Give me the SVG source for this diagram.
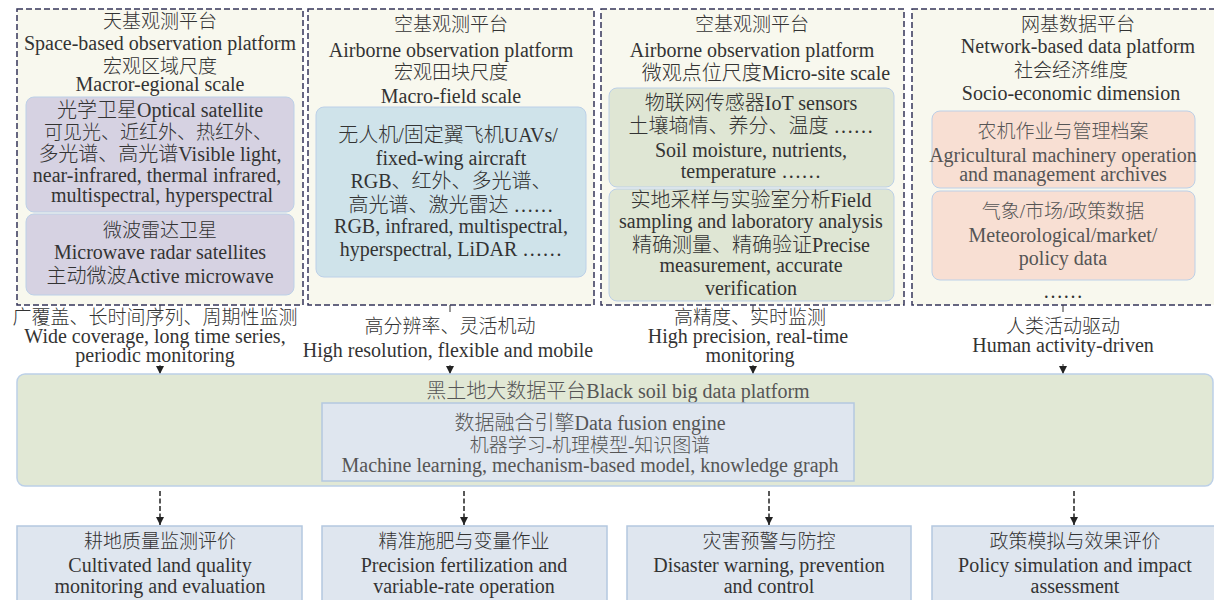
<svg xmlns="http://www.w3.org/2000/svg" width="1214" height="600" viewBox="0 0 1214 600">
<defs>
<style>
text{font-family:"Liberation Serif","Noto Sans CJK SC",serif;font-size:20px;font-weight:300;fill:#333;text-anchor:middle}
text.zh{font-size:19px}
.panel{fill:#f8f8ee;stroke:#35355a;stroke-width:1.5;stroke-dasharray:6 3}
.purple{fill:#d6d2e2;stroke:#bcd0e8;stroke-width:1}
.blue{fill:#cfe3ea;stroke:#bcd0e8;stroke-width:1}
.green{fill:#dfe6d4;stroke:#bcd0e8;stroke-width:1}
.pink{fill:#f8dfd3;stroke:#bcd0e8;stroke-width:1}
.plat{fill:#e1e8d5;stroke:#bcd0e8;stroke-width:1.5}
.fus{fill:#dfe6ef;stroke:#b4c8e0;stroke-width:1.5}
.out{fill:#dfe6ef;stroke:#b4c8e0;stroke-width:1.5}
.lbl{fill:#fff}
.grey{fill:#555}
.up{stroke:#333;stroke-width:1;fill:none}
.down{stroke:#222;stroke-width:1.5;stroke-dasharray:5 2.5;fill:none}
</style>
<marker id="ah" markerUnits="userSpaceOnUse" markerWidth="9" markerHeight="9" refX="8" refY="4" orient="auto" viewBox="0 0 9 8">
<path d="M0,0 L8,4 L0,8 z" fill="#222"/>
</marker>
</defs>

<g id="connectors">
<line class="up" x1="160" y1="305" x2="160" y2="374" marker-end="url(#ah)"/>
<line class="up" x1="450" y1="305" x2="450" y2="374" marker-end="url(#ah)"/>
<line class="up" x1="753" y1="305" x2="753" y2="374" marker-end="url(#ah)"/>
<line class="up" x1="1063" y1="305" x2="1063" y2="374" marker-end="url(#ah)"/>
<line class="down" x1="160" y1="491" x2="160" y2="525" marker-end="url(#ah)"/>
<line class="down" x1="464" y1="491" x2="464" y2="525" marker-end="url(#ah)"/>
<line class="down" x1="769" y1="491" x2="769" y2="525" marker-end="url(#ah)"/>
<line class="down" x1="1074" y1="491" x2="1074" y2="525" marker-end="url(#ah)"/>
</g>

<g id="panel-space">
<rect class="panel" x="17" y="9" width="286" height="296"/>
<text class="zh" x="160" y="28">天基观测平台</text>
<text x="160" y="50">Space-based observation platform</text>
<text class="zh" x="160" y="73">宏观区域尺度</text>
<text x="160" y="91">Macror-egional scale</text>
<g id="optical-satellite">
<rect class="purple" x="26" y="97" width="268" height="115" rx="8"/>
<text x="160" y="117">光学卫星Optical satellite</text>
<text class="zh" x="158" y="139">可见光、近红外、热红外、</text>
<text x="160" y="161">多光谱、高光谱Visible light,</text>
<text x="157" y="182">near-infrared, thermal infrared,</text>
<text x="162" y="202">multispectral, hyperspectral</text>
</g>
<g id="microwave-satellite">
<rect class="purple" x="26" y="214" width="268" height="81" rx="8"/>
<text class="zh" x="160" y="237">微波雷达卫星</text>
<text x="160" y="259">Microwave radar satellites</text>
<text x="160" y="283">主动微波Active microwave</text>
</g>
</g>

<g id="panel-air-macro">
<rect class="panel" x="308" y="9" width="286" height="296"/>
<text class="zh" x="451" y="31">空基观测平台</text>
<text x="451" y="57">Airborne observation platform</text>
<text class="zh" x="451" y="79">宏观田块尺度</text>
<text x="451" y="103">Macro-field scale</text>
<g id="uav">
<rect class="blue" x="316" y="107" width="270" height="170" rx="8"/>
<text x="448" y="142">无人机/固定翼飞机UAVs/</text>
<text x="451" y="165">fixed-wing aircraft</text>
<text x="451" y="188">RGB、红外、多光谱、</text>
<text x="451" y="212">高光谱、激光雷达 ……</text>
<text x="451" y="233">RGB, infrared, multispectral,</text>
<text x="451" y="256">hyperspectral, LiDAR ……</text>
</g>
</g>

<g id="panel-air-micro">
<rect class="panel" x="601" y="9" width="303" height="296"/>
<text class="zh" x="752" y="31">空基观测平台</text>
<text x="752" y="57">Airborne observation platform</text>
<text x="766" y="80">微观点位尺度Micro-site scale</text>
<g id="iot">
<rect class="green" x="609" y="88" width="285" height="99" rx="8"/>
<text x="751" y="110">物联网传感器IoT sensors</text>
<text x="751" y="133">土壤墒情、养分、温度 ……</text>
<text x="751" y="157">Soil moisture, nutrients,</text>
<text x="751" y="178">temperature ……</text>
</g>
<g id="field-sampling">
<rect class="green" x="609" y="189" width="285" height="112" rx="8"/>
<text x="751" y="207">实地采样与实验室分析Field</text>
<text x="751" y="228">sampling and laboratory analysis</text>
<text x="751" y="252">精确测量、精确验证Precise</text>
<text x="751" y="272">measurement, accurate</text>
<text x="751" y="295">verification</text>
</g>
</g>

<g id="panel-network">
<rect class="panel" x="912" y="9" width="312" height="296"/>
<text class="zh" x="1078" y="31">网基数据平台</text>
<text x="1078" y="53">Network-based data platform</text>
<text class="zh" x="1071" y="77">社会经济维度</text>
<text x="1071" y="100">Socio-economic dimension</text>
<g id="machinery">
<rect class="pink" x="932" y="111" width="263" height="77" rx="8"/>
<text class="zh grey" x="1063" y="138">农机作业与管理档案</text>
<text class="grey" x="1063" y="162">Agricultural machinery operation</text>
<text class="grey" x="1063" y="181">and management archives</text>
</g>
<g id="weather">
<rect class="pink" x="932" y="191" width="263" height="89" rx="8"/>
<text class="zh grey" x="1063" y="218">气象/市场/政策数据</text>
<text class="grey" x="1063" y="242">Meteorological/market/</text>
<text class="grey" x="1063" y="265">policy data</text>
</g>
<text x="1063" y="298">……</text>
</g>

<g id="label-1">
<rect class="lbl" x="2" y="312" width="306" height="53"/>
<text class="zh" x="155" y="324">广覆盖、长时间序列、周期性监测</text>
<text x="155" y="343">Wide coverage, long time series,</text>
<text x="155" y="362">periodic monitoring</text>
</g>
<g id="label-2">
<rect class="lbl" x="300" y="312" width="300" height="53"/>
<text class="zh" x="450" y="333">高分辨率、灵活机动</text>
<text x="448" y="357">High resolution, flexible and mobile</text>
</g>
<g id="label-3">
<rect class="lbl" x="640" y="312" width="220" height="53"/>
<text class="zh" x="750" y="324">高精度、实时监测</text>
<text x="748" y="343">High precision, real-time</text>
<text x="750" y="362">monitoring</text>
</g>
<g id="label-4">
<rect class="lbl" x="950" y="312" width="226" height="52"/>
<text class="zh" x="1063" y="333">人类活动驱动</text>
<text x="1063" y="352">Human activity-driven</text>
</g>

<g id="platform">
<rect class="plat" x="17" y="374" width="1196" height="112" rx="8"/>
<text class="grey" x="618" y="398">黑土地大数据平台Black soil big data platform</text>
<g id="fusion-engine">
<rect class="fus" x="322" y="403" width="532" height="78"/>
<text class="grey" x="590" y="430">数据融合引擎Data fusion engine</text>
<text class="zh grey" x="590" y="452">机器学习-机理模型-知识图谱</text>
<text class="grey" x="590" y="472">Machine learning, mechanism-based model, knowledge graph</text>
</g>
</g>

<g id="out-quality">
<rect class="out" x="17" y="526" width="285" height="80"/>
<text class="zh" x="160" y="548">耕地质量监测评价</text>
<text x="160" y="572">Cultivated land quality</text>
<text x="160" y="593">monitoring and evaluation</text>
</g>
<g id="out-fertilization">
<rect class="out" x="322" y="526" width="285" height="80"/>
<text class="zh" x="464" y="548">精准施肥与变量作业</text>
<text x="464" y="572">Precision fertilization and</text>
<text x="464" y="593">variable-rate operation</text>
</g>
<g id="out-disaster">
<rect class="out" x="627" y="526" width="284" height="80"/>
<text class="zh" x="769" y="548">灾害预警与防控</text>
<text x="769" y="572">Disaster warning, prevention</text>
<text x="769" y="593">and control</text>
</g>
<g id="out-policy">
<rect class="out" x="932" y="526" width="290" height="80"/>
<text class="zh" x="1075" y="548">政策模拟与效果评价</text>
<text x="1075" y="572">Policy simulation and impact</text>
<text x="1075" y="593">assessment</text>
</g>
</svg>
